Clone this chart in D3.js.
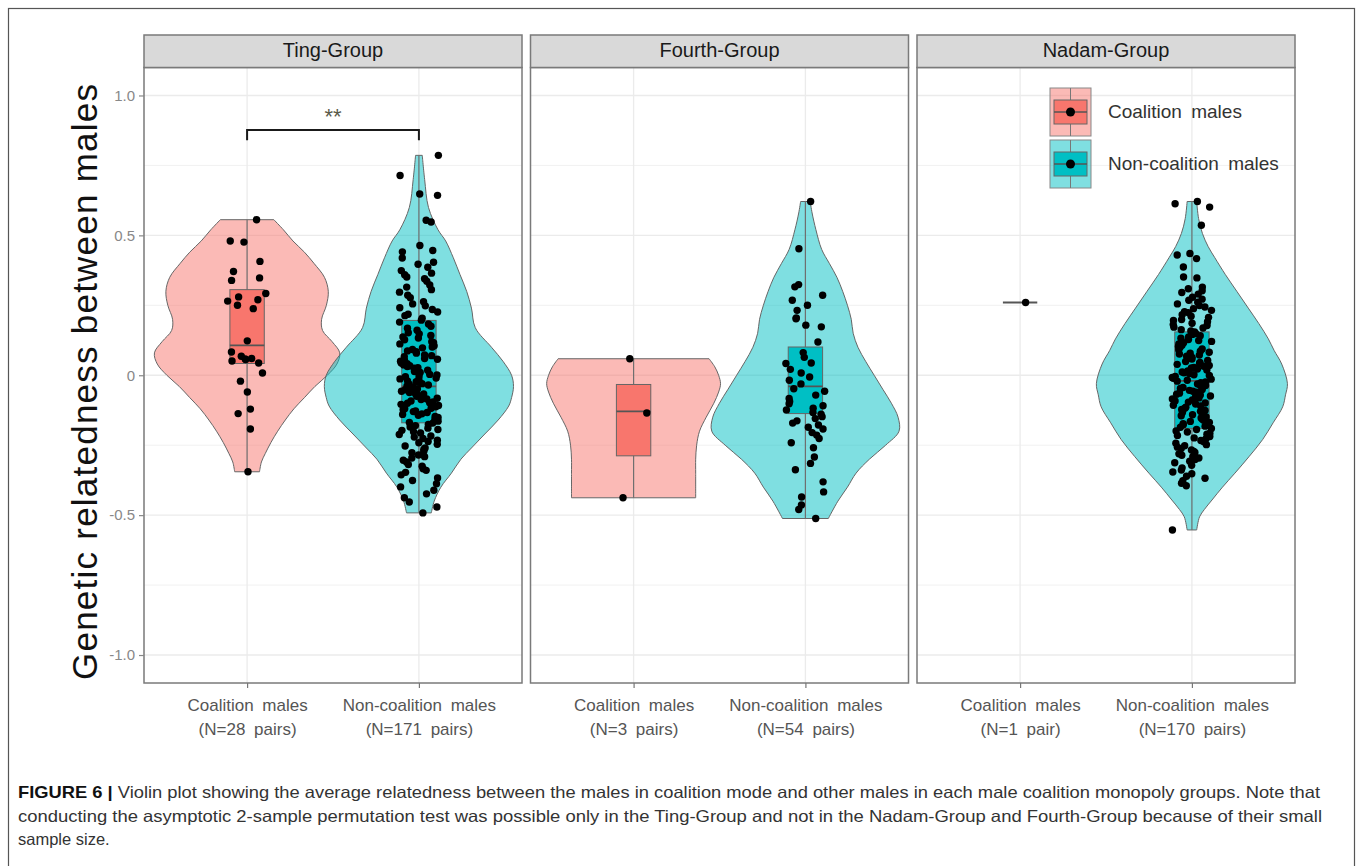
<!DOCTYPE html>
<html>
<head>
<meta charset="utf-8">
<script src="https://cdn.jsdelivr.net/npm/d3@7"></script>
<style>
  body { margin: 0; background: #fff; }
</style>
</head>
<body>
<div id="chart"></div>
<script>
// ---- data ----
const groups = ["Ting-Group", "Fourth-Group", "Nadam-Group"];
const males = ["Coalition males", "Non-coalition males"];
const pairLabels = [
  ["(N=28 pairs)", "(N=171 pairs)"],
  ["(N=3 pairs)", "(N=54 pairs)"],
  ["(N=1 pair)", "(N=170 pairs)"]
];
const yTicks = [-1.0, -0.5, 0, 0.5, 1.0];
const yTickLabels = ["-1.0", "-0.5", "0", "0.5", "1.0"];
const yMinor = [-0.75, -0.25, 0.25, 0.75];

// relatedness of each pair (jittered points)
const tingCoalition = [0.556, 0.48, 0.476, 0.407, 0.371, 0.348, 0.339, 0.292, 0.28, 0.27, 0.265, 0.25, 0.238,
  0.123, 0.083, 0.068, 0.06, 0.058, 0.056, 0.051, 0.044, 0.008, -0.021, -0.06, -0.121, -0.137, -0.192, -0.345];
const tingNon = [0.786, 0.714, 0.648, 0.643, 0.554, 0.548, 0.464,
  0.446, 0.441, 0.419, 0.404, 0.397, 0.386, 0.374, 0.365, 0.359, 0.351,
  0.345, 0.336, 0.323, 0.315, 0.306, 0.297, 0.286, 0.277, 0.263, 0.255,
  0.248, 0.241, 0.235, 0.226, 0.218, 0.213, 0.204, 0.197, 0.19, 0.183, 0.175, 0.168, 0.161, 0.152,
  0.148, 0.142, 0.137, 0.133, 0.127, 0.12, 0.116, 0.112, 0.105, 0.101, 0.098, 0.092, 0.087, 0.084, 0.079, 0.073,
  0.07, 0.066, 0.06, 0.057, 0.053, 0.05,
  0.047, 0.044, 0.041, 0.037, 0.034, 0.031, 0.027, 0.025, 0.02, 0.018, 0.013, 0.01, 0.008, 0.003, 0.001,
  -0.003, -0.005, -0.01, -0.013, -0.015, -0.02, -0.023, -0.025, -0.03, -0.032, -0.035, -0.038, -0.043, -0.046, -0.049,
  -0.052, -0.055, -0.057, -0.062, -0.065, -0.067, -0.072, -0.075, -0.077, -0.082, -0.085, -0.087, -0.092, -0.095, -0.098,
  -0.1, -0.104, -0.108, -0.11, -0.113, -0.118, -0.12, -0.123, -0.128, -0.13, -0.133, -0.138, -0.14, -0.143, -0.147,
  -0.151, -0.157, -0.16, -0.164, -0.169, -0.171, -0.176, -0.18, -0.185, -0.189, -0.194, -0.197, -0.202, -0.206,
  -0.212, -0.217, -0.221, -0.226, -0.232, -0.237, -0.241, -0.247,
  -0.253, -0.26, -0.265, -0.272, -0.277, -0.285, -0.291, -0.296, -0.304, -0.31, -0.319, -0.325, -0.334, -0.34, -0.347,
  -0.356, -0.367, -0.376, -0.388, -0.399, -0.411, -0.424, -0.438, -0.453, -0.471, -0.492];
const fourthCoalition = [0.059, -0.135, -0.438];
const fourthNon = [0.621, 0.452, 0.324, 0.316, 0.286, 0.268, 0.25, 0.232, 0.205, 0.202, 0.179, 0.173, 0.119,
  0.081, 0.064, 0.044, 0.042, 0.021, 0.008, -0.006, -0.018, -0.031, -0.048, -0.057, -0.071, -0.083, -0.094,
  -0.102, -0.109, -0.118, -0.124, -0.133, -0.139, -0.148, -0.155, -0.163, -0.171, -0.178, -0.186, -0.192,
  -0.205, -0.214, -0.226, -0.241, -0.259, -0.292, -0.315, -0.338, -0.381, -0.417, -0.435, -0.464, -0.48, -0.512];
const nadamCoalition = [0.26];
const nadamNon = [0.621, 0.613, 0.601, 0.536, 0.435, 0.43, 0.417, 0.387, 0.351, 0.348, 0.315, 0.309, 0.302, 0.296, 0.29,
  0.279, 0.272, 0.268, 0.261, 0.255, 0.249, 0.244, 0.238, 0.232,
  0.227, 0.224, 0.216, 0.211, 0.207, 0.199, 0.196, 0.191, 0.186, 0.181,
  0.178, 0.172, 0.169, 0.163, 0.158, 0.155, 0.149, 0.146, 0.141, 0.137, 0.132,
  0.128, 0.124, 0.121, 0.116, 0.112, 0.107, 0.103, 0.099, 0.094, 0.091, 0.086, 0.082,
  0.079, 0.076, 0.072, 0.068, 0.064, 0.061, 0.058, 0.053, 0.049, 0.046, 0.043, 0.039, 0.035, 0.032,
  0.028, 0.026, 0.022, 0.019, 0.015, 0.012, 0.009, 0.006, 0.002, -0.001, -0.004, -0.008, -0.011, -0.014, -0.018,
  -0.021, -0.024, -0.027, -0.031, -0.034, -0.037, -0.041, -0.044, -0.047, -0.051, -0.054, -0.057, -0.061, -0.064, -0.068,
  -0.071, -0.074, -0.078, -0.081, -0.085, -0.088, -0.092, -0.096, -0.099, -0.103, -0.107, -0.11, -0.114, -0.118,
  -0.122, -0.126, -0.129, -0.133, -0.137, -0.141, -0.145, -0.149, -0.153, -0.157, -0.161, -0.165, -0.169,
  -0.173, -0.177, -0.182, -0.186, -0.19, -0.194, -0.199, -0.203, -0.207, -0.211, -0.215, -0.219,
  -0.224, -0.228, -0.233, -0.238, -0.243, -0.248, -0.252, -0.257, -0.262, -0.267,
  -0.272, -0.276, -0.281, -0.286, -0.291, -0.296, -0.301, -0.307, -0.313,
  -0.322, -0.331, -0.339, -0.346, -0.352, -0.361, -0.368, -0.377, -0.386, -0.395, -0.553];

// violin outlines: [relatedness, relative density]
const tingCoalitionViolin = [[0.556, 0.28], [0.52, 0.38], [0.48, 0.48], [0.44, 0.6], [0.4, 0.7], [0.35, 0.81],
  [0.3, 0.85], [0.25, 0.83], [0.2, 0.78], [0.16, 0.79], [0.12, 0.89], [0.08, 0.97], [0.04, 0.94], [0, 0.84],
  [-0.04, 0.71], [-0.08, 0.6], [-0.12, 0.49], [-0.16, 0.4], [-0.2, 0.32], [-0.24, 0.25], [-0.28, 0.19],
  [-0.31, 0.15], [-0.345, 0.13]];
const tingNonViolin = [[0.786, 0.035], [0.7, 0.06], [0.6, 0.1], [0.52, 0.2], [0.48, 0.28], [0.42, 0.36],
  [0.36, 0.43], [0.3, 0.5], [0.24, 0.55], [0.17, 0.59], [0.1, 0.76], [0.05, 0.88], [0, 0.97], [-0.04, 0.99],
  [-0.08, 0.97], [-0.11, 0.94], [-0.16, 0.83], [-0.21, 0.69], [-0.26, 0.55], [-0.3, 0.44], [-0.35, 0.34],
  [-0.4, 0.23], [-0.45, 0.16], [-0.492, 0.13]];
const fourthCoalitionViolin = [[0.059, 0.79], [0.03, 0.85], [0, 0.89], [-0.03, 0.91], [-0.06, 0.89],
  [-0.1, 0.84], [-0.15, 0.76], [-0.2, 0.69], [-0.25, 0.66], [-0.3, 0.65], [-0.35, 0.65], [-0.438, 0.65]];
const fourthNonViolin = [[0.621, 0.05], [0.58, 0.07], [0.52, 0.11], [0.45, 0.17], [0.4, 0.25], [0.35, 0.33],
  [0.3, 0.39], [0.25, 0.44], [0.2, 0.48], [0.15, 0.5], [0.1, 0.55], [0.05, 0.63], [0, 0.72], [-0.05, 0.81],
  [-0.1, 0.9], [-0.15, 0.97], [-0.2, 0.98], [-0.25, 0.84], [-0.3, 0.67], [-0.35, 0.53], [-0.4, 0.44],
  [-0.45, 0.34], [-0.512, 0.24]];
const nadamCoalitionViolin = [];
const nadamNonViolin = [[0.621, 0.05], [0.56, 0.07], [0.507, 0.11], [0.46, 0.17], [0.42, 0.24], [0.36, 0.35],
  [0.3, 0.47], [0.24, 0.59], [0.185, 0.7], [0.13, 0.8], [0.089, 0.86], [0.04, 0.94], [-0.03, 1.0],
  [-0.07, 0.98], [-0.113, 0.95], [-0.17, 0.85], [-0.23, 0.74], [-0.29, 0.6], [-0.35, 0.45], [-0.4, 0.32],
  [-0.446, 0.21], [-0.48, 0.13], [-0.506, 0.08], [-0.553, 0.05]];

// boxplot stats: [lower whisker, Q1, median, Q3, upper whisker]
const tingCoalitionBox = [-0.345, 0.042, 0.107, 0.306, 0.556];
const tingNonBox = [-0.492, -0.17, -0.04, 0.196, 0.786];
const fourthCoalitionBox = [-0.438, -0.288, -0.129, -0.033, 0.059];
const fourthNonBox = [-0.512, -0.137, -0.04, 0.101, 0.621];
const nadamCoalitionBox = [0.26, 0.26, 0.26, 0.26, 0.26];
const nadamNonBox = [-0.553, -0.19, -0.02, 0.155, 0.621];

// significance bracket (Ting-Group)
const signifLabel = "**";
const signifLevels = [0.84, 0.877, 0.94]; // tick end, bracket, label

const caption = [
  "Violin plot showing the average relatedness between the males in coalition mode and other males in each male coalition monopoly groups. Note that",
  "conducting the asymptotic 2-sample permutation test was possible only in the Ting-Group and not in the Nadam-Group and Fourth-Group because of their small",
  "sample size."
];

const series = [
  {group: 0, male: males[0], points: tingCoalition, violin: tingCoalitionViolin, box: tingCoalitionBox},
  {group: 0, male: males[1], points: tingNon, violin: tingNonViolin, box: tingNonBox},
  {group: 1, male: males[0], points: fourthCoalition, violin: fourthCoalitionViolin, box: fourthCoalitionBox},
  {group: 1, male: males[1], points: fourthNon, violin: fourthNonViolin, box: fourthNonBox},
  {group: 2, male: males[0], points: nadamCoalition, violin: nadamCoalitionViolin, box: nadamCoalitionBox},
  {group: 2, male: males[1], points: nadamNon, violin: nadamNonViolin, box: nadamNonBox}
];

// ---- layout ----
const W = 1357, H = 866;
const panel = {left: 144, width: 378, gap: 8.5, top: 67.5, bottom: 683, stripTop: 35};
const font = "'Liberation Sans', Arial, sans-serif";

const color = d3.scaleOrdinal().domain(males).range(["#F8766D", "#00BFC4"]);

// deterministic jitter offset in [-1, 1] for the i-th point
const jitter = i => {
  const s = Math.sin((i + 1) * 78.233 + 12.9898) * 43758.5453;
  return (s - Math.floor(s)) * 2 - 1;
};

const svg = d3.select("#chart").append("svg")
  .attr("width", W).attr("height", H)
  .style("font-family", font);

// outer figure frame
svg.append("rect")
  .attr("x", 8.5).attr("y", 8.5)
  .attr("width", 1346).attr("height", 870)
  .attr("fill", "none").attr("stroke", "#555").attr("stroke-width", 1.2);

const y = d3.scaleLinear().domain([-1.1, 1.1]).range([panel.bottom, panel.top]);
const x = d3.scalePoint().domain(males).range([0, panel.width]).padding(0.6);
const step = x.step();
const halfWidth = d3.scaleLinear().domain([0, 1]).range([0, 0.556 * step]);
const boxHalf = 0.1 * step;
const jitterW = 0.115 * step;

groups.forEach(function (name, gi) {
  const g = svg.append("g")
    .attr("transform", "translate(" + (panel.left + gi * (panel.width + panel.gap)) + ",0)");

  // grid
  g.selectAll(".minor").data(yMinor).join("line")
    .attr("x1", 0).attr("x2", panel.width)
    .attr("y1", d => y(d)).attr("y2", d => y(d))
    .attr("stroke", "#f1f1f1").attr("stroke-width", 1);
  g.selectAll(".major").data(yTicks).join("line")
    .attr("x1", 0).attr("x2", panel.width)
    .attr("y1", d => y(d)).attr("y2", d => y(d))
    .attr("stroke", "#ebebeb").attr("stroke-width", 1.3);
  g.selectAll(".vgrid").data(males).join("line")
    .attr("x1", d => x(d)).attr("x2", d => x(d))
    .attr("y1", panel.top).attr("y2", panel.bottom)
    .attr("stroke", "#ebebeb").attr("stroke-width", 1.3);

  const rows = series.filter(s => s.group === gi);

  // violins
  rows.forEach(function (s) {
    if (!s.violin.length) return;
    const cx = x(s.male);
    const area = d3.area()
      .curve(d3.curveCatmullRom.alpha(0.5))
      .y(d => y(d[0]))
      .x0(d => cx - halfWidth(d[1]))
      .x1(d => cx + halfWidth(d[1]));
    g.append("path")
      .datum(s.violin)
      .attr("d", area)
      .attr("fill", color(s.male)).attr("fill-opacity", 0.5)
      .attr("stroke", "#666").attr("stroke-width", 1);
  });

  // boxplots
  rows.forEach(function (s) {
    const cx = x(s.male);
    const b = s.box;
    g.append("line")
      .attr("x1", cx).attr("x2", cx)
      .attr("y1", y(b[0])).attr("y2", y(b[4]))
      .attr("stroke", "#6f6f6f").attr("stroke-width", 1.2);
    g.append("rect")
      .attr("x", cx - boxHalf).attr("width", 2 * boxHalf)
      .attr("y", y(b[3])).attr("height", Math.max(0, y(b[1]) - y(b[3])))
      .attr("fill", color(s.male))
      .attr("stroke", "#666").attr("stroke-width", 1);
    g.append("line")
      .attr("x1", cx - boxHalf).attr("x2", cx + boxHalf)
      .attr("y1", y(b[2])).attr("y2", y(b[2]))
      .attr("stroke", "#555").attr("stroke-width", 1.8);
  });

  // jittered points
  rows.forEach(function (s, si) {
    const cx = x(s.male);
    g.selectAll(null).data(s.points).join("circle")
      .attr("cx", (d, i) => cx + jitter(i + si * 200 + gi * 500) * jitterW)
      .attr("cy", d => y(d))
      .attr("r", 3.7)
      .attr("fill", "#000");
  });

  // panel border
  g.append("rect")
    .attr("x", 0).attr("y", panel.top)
    .attr("width", panel.width).attr("height", panel.bottom - panel.top)
    .attr("fill", "none").attr("stroke", "#7a7a7a").attr("stroke-width", 1.5);

  // strip
  g.append("rect")
    .attr("x", 0).attr("y", panel.stripTop)
    .attr("width", panel.width).attr("height", panel.top - panel.stripTop)
    .attr("fill", "#d9d9d9").attr("stroke", "#7a7a7a").attr("stroke-width", 1.5);
  g.append("text")
    .attr("x", panel.width / 2).attr("y", 57)
    .attr("text-anchor", "middle")
    .attr("font-size", 20).attr("fill", "#1a1a1a")
    .text(name);

  // x axis
  const xAxis = g.append("g")
    .attr("transform", "translate(0," + panel.bottom + ")")
    .call(d3.axisBottom(x).tickSize(5).tickPadding(0));
  xAxis.select(".domain").remove();
  xAxis.selectAll(".tick line").attr("stroke", "#777").attr("stroke-width", 1.2);
  xAxis.selectAll(".tick text").each(function (d, i) {
    const t = d3.select(this).text(null)
      .attr("fill", "#555").attr("font-size", 17).attr("font-family", font)
      .attr("y", 0).attr("dy", null).style("word-spacing", "4px");
    t.append("tspan").attr("x", 0).attr("y", 28).text(d);
    t.append("tspan").attr("x", 0).attr("y", 52).text(pairLabels[gi][i]);
  });

  // y axis on the first panel
  if (gi === 0) {
    const yAxis = g.append("g")
      .call(d3.axisLeft(y).tickValues(yTicks)
        .tickFormat((d, i) => yTickLabels[i]).tickSize(5).tickPadding(4));
    yAxis.select(".domain").remove();
    yAxis.selectAll(".tick line").attr("stroke", "#888").attr("stroke-width", 1.2);
    yAxis.selectAll(".tick text")
      .attr("fill", "#888").attr("font-size", 15).attr("font-family", font);

    // significance bracket
    const x1 = x(males[0]), x2 = x(males[1]);
    g.append("path")
      .attr("d", "M" + x1 + "," + y(signifLevels[0]) + "V" + y(signifLevels[1]) +
        "H" + x2 + "V" + y(signifLevels[0]))
      .attr("fill", "none").attr("stroke", "#1a1a1a").attr("stroke-width", 2);
    g.append("text")
      .attr("x", (x1 + x2) / 2).attr("y", y(signifLevels[2]) + 12)
      .attr("text-anchor", "middle")
      .attr("font-size", 22).attr("fill", "#5a5a4a")
      .text(signifLabel);
  }

  // legend inside the last panel
  if (gi === 2) {
    const lg = g.append("g").attr("transform", "translate(133,88)");
    males.forEach(function (m, i) {
      const k = lg.append("g").attr("transform", "translate(0," + (i * 52) + ")");
      k.append("rect").attr("width", 41).attr("height", 48)
        .attr("fill", color(m)).attr("fill-opacity", 0.5)
        .attr("stroke", "#888").attr("stroke-width", 1);
      k.append("line").attr("x1", 20.5).attr("x2", 20.5).attr("y1", 0).attr("y2", 48)
        .attr("stroke", "#777").attr("stroke-width", 1);
      k.append("rect").attr("x", 4).attr("y", 12).attr("width", 33).attr("height", 24)
        .attr("fill", color(m)).attr("stroke", "#666").attr("stroke-width", 1);
      k.append("line").attr("x1", 4).attr("x2", 37).attr("y1", 24).attr("y2", 24)
        .attr("stroke", "#555").attr("stroke-width", 1.5);
      k.append("circle").attr("cx", 20.5).attr("cy", 24).attr("r", 4.5).attr("fill", "#000");
      k.append("text").attr("x", 58).attr("y", 30)
        .attr("font-size", 19).attr("fill", "#333").style("word-spacing", "4px")
        .text(m);
    });
  }
});

// y axis title
svg.append("text")
  .attr("transform", "translate(97,382) rotate(-90)")
  .attr("text-anchor", "middle")
  .attr("font-size", 35).attr("fill", "#111")
  .attr("textLength", 596).attr("lengthAdjust", "spacing")
  .text("Genetic relatedness between males");

// caption
const cap = svg.append("g").attr("font-size", 16.5).attr("fill", "#333");
const first = cap.append("text").attr("x", 18).attr("y", 798)
  .attr("textLength", 1302).attr("lengthAdjust", "spacingAndGlyphs");
first.append("tspan").attr("font-weight", "bold").attr("fill", "#111").text("FIGURE 6 | ");
first.append("tspan").text(caption[0]);
cap.append("text").attr("x", 18).attr("y", 821.5)
  .attr("textLength", 1304).attr("lengthAdjust", "spacingAndGlyphs")
  .text(caption[1]);
cap.append("text").attr("x", 18).attr("y", 845).text(caption[2]);
</script>
</body>
</html>
